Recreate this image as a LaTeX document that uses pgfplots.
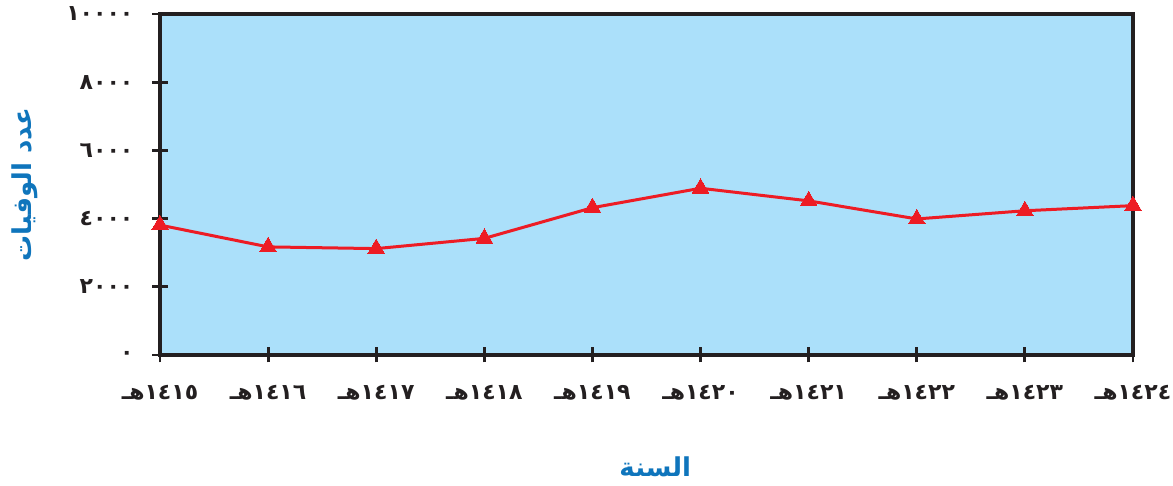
\documentclass[border=0pt]{standalone}
\usepackage{fontspec}
\usepackage{pgfplots}
\pgfplotsset{compat=1.18}
\TeXXeTstate=1
\newfontfamily\arabicfont[Script=Arabic]{DejaVu Sans}
\definecolor{bgblue}{HTML}{ABE0FA}
\definecolor{lred}{HTML}{ED1C24}
\definecolor{lblue}{HTML}{0F75BC}
\definecolor{axblack}{HTML}{231F20}
\newcommand{\hl}[1]{\mbox{\arabicfont\beginR هـ\endR}\mbox{\arabicfont #1}}
\newcommand{\dg}[1]{\mbox{\arabicfont #1}}
\begin{document}
\begin{tikzpicture}
\path[use as bounding box] (-80pt,-65.5pt) rectangle (506.5pt,177.5pt);
\begin{axis}[
  at={(0,0)}, anchor=south west,
  scale only axis, width=486.5pt, height=170.5pt,
  xmin=0, xmax=9, ymin=0, ymax=10000,
  axis background/.style={fill=bgblue},
  axis line style={axblack, line width=1.6pt},
  xtick={0,1,...,9}, ytick={0,2000,4000,6000,8000,10000},
  xticklabels={\hl{١٤١٥},\hl{١٤١٦},\hl{١٤١٧},\hl{١٤١٨},\hl{١٤١٩},\hl{١٤٢٠},\hl{١٤٢١},\hl{١٤٢٢},\hl{١٤٢٣},\hl{١٤٢٤}},
  yticklabels={\dg{٠},\dg{٢٠٠٠},\dg{٤٠٠٠},\dg{٦٠٠٠},\dg{٨٠٠٠},\dg{١٠٠٠٠}},
  tick align=center, major tick length=7.5pt,
  tick style={axblack, line width=1.4pt},
  xtick pos=bottom, ytick pos=left,
  tick label style={font=\fontsize{11}{13}\selectfont\bfseries, text=axblack},
  xticklabel style={anchor=center, yshift=-15pt},
  yticklabel style={anchor=east, xshift=-6pt},
  scaled y ticks=false,
  clip=false,
  xlabel={\arabicfont\beginR السنة\endR},
  ylabel={\arabicfont\beginR عدد الوفيات\endR},
  label style={font=\fontsize{13}{15}\selectfont\bfseries, text=lblue},
  xlabel style={at={(axis description cs:0.509,-0.3284)}, anchor=center},
  ylabel style={at={(axis description cs:-0.139,0.5)}, anchor=center},
]
\addplot[color=lred, line width=1.5pt, mark=triangle*, mark size=4.8pt, mark options={fill=lred, draw=lred, line width=0pt}]
  coordinates {(0,3810)(1,3170)(2,3120)(3,3420)(4,4320)(5,4890)(6,4520)(7,3990)(8,4230)(9,4380)};
\end{axis}
\end{tikzpicture}
\end{document}
